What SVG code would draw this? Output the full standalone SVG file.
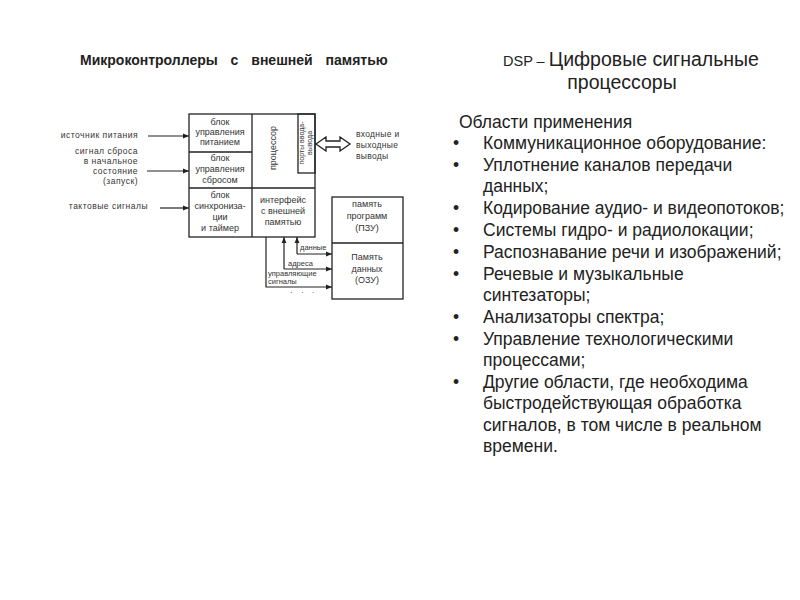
<svg xmlns="http://www.w3.org/2000/svg" width="800" height="600" viewBox="0 0 800 600">
<defs>
<marker id="ah" viewBox="0 0 10 10" refX="10" refY="5" markerWidth="6" markerHeight="6" markerUnits="userSpaceOnUse" orient="auto">
<path d="M0,1 L10,5 L0,9 z" fill="#222"/>
</marker>
</defs>
<style>
.bx{fill:none;stroke:#222;stroke-width:1.3}
.ln{fill:none;stroke:#222;stroke-width:1.2}
.t{font-family:"Liberation Sans",Arial,sans-serif;font-size:9px;fill:#333;text-anchor:middle;dominant-baseline:middle}
.tl{font-family:"Liberation Sans",Arial,sans-serif;font-size:8.5px;fill:#333;text-anchor:end;dominant-baseline:middle;letter-spacing:0.5px}
.ts{font-family:"Liberation Sans",Arial,sans-serif;font-size:7.5px;fill:#333;dominant-baseline:middle}
.h{font-family:"Liberation Sans",Arial,sans-serif;font-size:14px;font-weight:bold;fill:#222;word-spacing:9px}
.b{font-family:"Liberation Sans",Arial,sans-serif;font-size:17.5px;fill:#222}
</style>
<rect width="800" height="600" fill="#fff"/>
<text class="h" x="80" y="65">Микроконтроллеры с внешней памятью</text>

<g id="main">
<rect class="bx" x="189" y="114" width="126" height="123"/>
</g>
<g id="power">
<line class="bx" x1="252" y1="114" x2="252" y2="237"/>
<line class="bx" x1="189" y1="152" x2="252" y2="152"/>
<text class="t" x="220" y="123">блок</text>
<text class="t" x="220" y="133">управления</text>
<text class="t" x="220" y="143">питанием</text>
</g>
<g id="reset">
<line class="bx" x1="189" y1="188" x2="315" y2="188"/>
<text class="t" x="220" y="159">блок</text>
<text class="t" x="220" y="170">управления</text>
<text class="t" x="220" y="181">сбросом</text>
</g>
<g id="sync">
<text class="t" x="220" y="196">блок</text>
<text class="t" x="220" y="207">синхрониза-</text>
<text class="t" x="220" y="218">ции</text>
<text class="t" x="220" y="229">и таймер</text>
</g>
<g id="cpu">
<text class="t" transform="translate(274,148) rotate(-90)">процессор</text>
</g>
<g id="ports">
<rect class="bx" x="298" y="114" width="17" height="59"/>
<text class="t" style="font-size:7px" transform="translate(302.5,143) rotate(-90)">порты ввода-</text>
<text class="t" style="font-size:7px" transform="translate(310.5,143) rotate(-90)">вывода</text>
</g>
<g id="iface">
<text class="t" x="283" y="201">интерфейс</text>
<text class="t" x="283" y="212">с внешней</text>
<text class="t" x="283" y="223">памятью</text>
</g>
<g id="rom">
<rect class="bx" x="332" y="197" width="71" height="102"/>
<line class="bx" x1="332" y1="243" x2="403" y2="243"/>
<text class="t" x="367" y="205">память</text>
<text class="t" x="367" y="217">программ</text>
<text class="t" x="367" y="229">(ПЗУ)</text>
</g>
<g id="ram">
<text class="t" x="367" y="258">Память</text>
<text class="t" x="367" y="270">данных</text>
<text class="t" x="367" y="281">(ОЗУ)</text>
</g>

<g id="labels">
<text class="tl" x="138" y="136">источник питания</text>
<text class="tl" x="138" y="152">сигнал сброса</text>
<text class="tl" x="138" y="162">в начальное</text>
<text class="tl" x="138" y="172">состояние</text>
<text class="tl" x="138" y="182">(запуск)</text>
<text class="tl" x="148" y="207">тактовые сигналы</text>
<text class="ts" x="356" y="135" style="font-size:8.5px;letter-spacing:0.3px">входные и</text>
<text class="ts" x="356" y="146" style="font-size:8.5px;letter-spacing:0.3px">выходные</text>
<text class="ts" x="356" y="157" style="font-size:8.5px;letter-spacing:0.3px">выводы</text>
<text class="ts" x="300" y="248">данные</text>
<text class="ts" x="288" y="264">адреса</text>
<text class="ts" x="268" y="274">управляющие</text>
<text class="ts" x="268" y="282">сигналы</text>
<text class="ts" x="290" y="293" style="font-size:8px;letter-spacing:3px">· · ·</text>
</g>

<g id="connectors">
<line class="ln" x1="148" y1="136" x2="189" y2="136" marker-end="url(#ah)"/>
<line class="ln" x1="147" y1="171" x2="189" y2="171" marker-end="url(#ah)"/>
<line class="ln" x1="160" y1="208" x2="189" y2="208" marker-end="url(#ah)"/>
<polygon points="316,144 326,137 326,141 340,141 340,137 350,144 340,151 340,147 326,147 326,151" fill="#fff" stroke="#222" stroke-width="1.3"/>
<polyline class="ln" points="297,254 297,237" marker-end="url(#ah)"/>
<polyline class="ln" points="297,254 332,254" marker-end="url(#ah)"/>
<polyline class="ln" points="284,269 284,237" marker-end="url(#ah)"/>
<polyline class="ln" points="284,269 332,269" marker-end="url(#ah)"/>
<polyline class="ln" points="266,237 266,287 332,287" marker-end="url(#ah)"/>
</g>

<g id="right">
<text x="631" y="66" text-anchor="middle" font-family="Liberation Sans, Arial, sans-serif" fill="#222"><tspan font-size="14.5">DSP – </tspan><tspan font-size="19.5">Цифровые сигнальные</tspan></text>
<text x="622" y="89" text-anchor="middle" font-family="Liberation Sans, Arial, sans-serif" font-size="19.5" fill="#222">процессоры</text>
<text class="b" x="459" y="128">Области применения</text>
<g class="b">
<text x="453" y="149">•</text><text x="483" y="149">Коммуникационное оборудование:</text>
<text x="453" y="171">•</text><text x="483" y="171">Уплотнение каналов передачи</text>
<text x="483" y="192">данных;</text>
<text x="453" y="214">•</text><text x="483" y="214">Кодирование аудио- и видеопотоков;</text>
<text x="453" y="236">•</text><text x="483" y="236">Системы гидро- и радиолокации;</text>
<text x="453" y="258">•</text><text x="483" y="258">Распознавание речи и изображений;</text>
<text x="453" y="280">•</text><text x="483" y="280">Речевые и музыкальные</text>
<text x="483" y="301">синтезаторы;</text>
<text x="453" y="323">•</text><text x="483" y="323">Анализаторы спектра;</text>
<text x="453" y="345">•</text><text x="483" y="345">Управление технологическими</text>
<text x="483" y="366">процессами;</text>
<text x="453" y="388">•</text><text x="483" y="388">Другие области, где необходима</text>
<text x="483" y="409">быстродействующая обработка</text>
<text x="483" y="431">сигналов, в том числе в реальном</text>
<text x="483" y="452">времени.</text>
</g>
</g>
</svg>
